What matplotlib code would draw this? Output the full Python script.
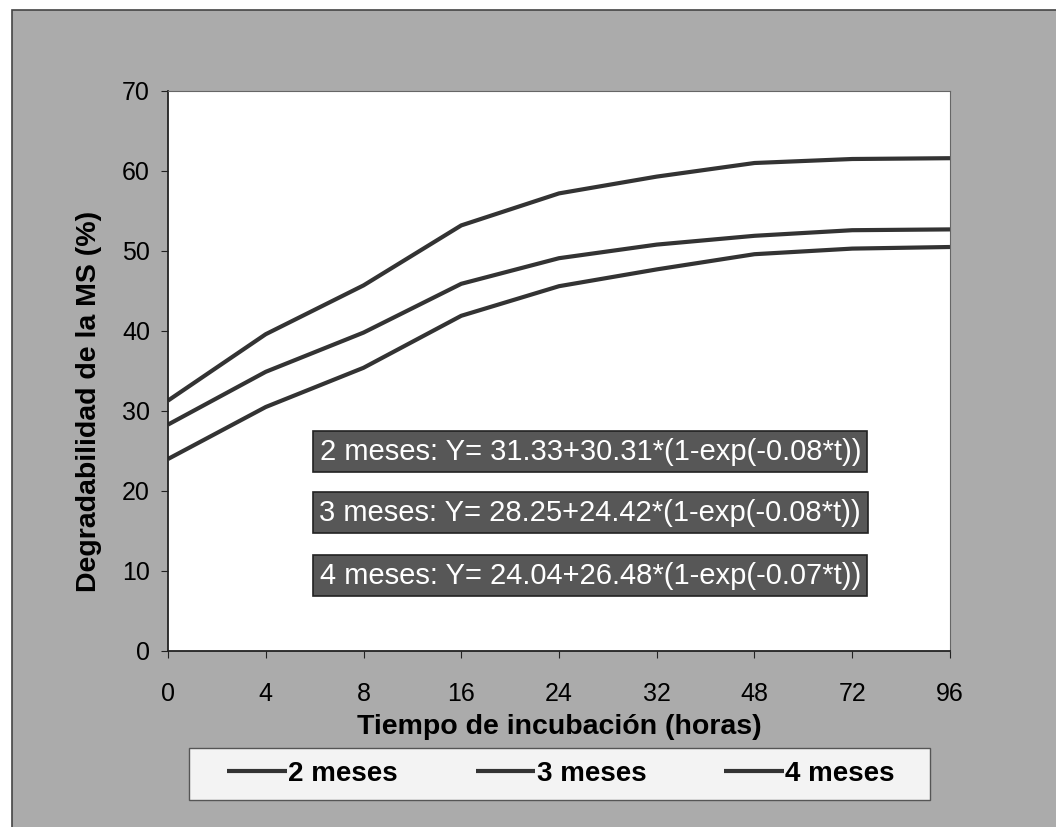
import matplotlib
matplotlib.use("Agg")
import matplotlib.pyplot as plt
from matplotlib.patches import Rectangle

# datos
horas = ["0", "4", "8", "16", "24", "32", "48", "72", "96"]
meses2 = [31.3, 39.6, 45.7, 53.2, 57.2, 59.3, 61.0, 61.5, 61.6]
meses3 = [28.3, 34.9, 39.8, 45.9, 49.1, 50.8, 51.9, 52.6, 52.7]
meses4 = [24.0, 30.5, 35.4, 41.9, 45.6, 47.7, 49.6, 50.3, 50.5]
series = ["2 meses", "3 meses", "4 meses"]
ecuaciones = ["2 meses: Y= 31.33+30.31*(1-exp(-0.08*t))",
              "3 meses: Y= 28.25+24.42*(1-exp(-0.08*t))",
              "4 meses: Y= 24.04+26.48*(1-exp(-0.07*t))"]

plt.rcParams['font.family'] = ['Liberation Sans', 'DejaVu Sans']

W, H = 1056, 827
fig = plt.figure(figsize=(W / 100, H / 100), dpi=100)
fig.patch.set_facecolor('white')

# fondo gris con marco (el escaneo deja una franja blanca arriba/izquierda)
fig.patches.append(Rectangle((12 / W, -0.01), 1.02, 1 - 10 / H + 0.01,
                             transform=fig.transFigure, fc='#ababab',
                             ec='#444444', lw=1.2, zorder=-10))
# caja blanca de la leyenda
fig.patches.append(Rectangle((189 / W, 1 - 800 / H), 741 / W, 52 / H,
                             transform=fig.transFigure, fc='#f3f3f3',
                             ec='#555555', lw=1, zorder=-5))

ax = fig.add_axes([168 / W, 1 - 651 / H, 782 / W, 560 / H])
ax.set_facecolor('white')

x = list(range(len(horas)))
for vals, lab in zip([meses2, meses3, meses4], series):
    ax.plot(x, vals, color='#333333', lw=3, label=lab, solid_capstyle='butt')

ax.set_xlim(0, len(horas) - 1)
ax.set_ylim(0, 70)
ax.set_xticks(x)
ax.set_xticklabels(horas)
ax.set_yticks(range(0, 71, 10))
ax.tick_params(axis='both', labelsize=18, color='#222222', length=5,
               direction='out')
ax.tick_params(axis='x', pad=17)
ax.tick_params(axis='y', pad=8)
for s in ['top', 'right']:
    ax.spines[s].set_color('#666666')
    ax.spines[s].set_linewidth(0.8)
for s in ['left', 'bottom']:
    ax.spines[s].set_color('#222222')
    ax.spines[s].set_linewidth(1.3)

ax.set_xlabel('Tiempo de incubación (horas)', fontsize=20.5, fontweight='bold')
ax.set_ylabel('Degradabilidad de la MS (%)', fontsize=20.5, fontweight='bold')
ax.xaxis.set_label_coords(0.501, -0.1125)
ax.yaxis.set_label_coords(-0.0844, 0.446)

ypos = [24.9, 17.3, 9.4]
for txt, yy in zip(ecuaciones, ypos):
    ax.text(4.32, yy, txt, ha='center', va='center', fontsize=21,
            color='white',
            bbox=dict(boxstyle='square,pad=0.22', fc='#575757', ec='#222222',
                      lw=1.2))

leg = fig.legend(loc='center', bbox_to_anchor=(561 / W, 1 - 774 / H), ncol=3,
                 frameon=False, handlelength=2.15, handletextpad=0.05,
                 columnspacing=2.8, prop={'weight': 'bold', 'size': 20})

fig.savefig('out.png', dpi=100, facecolor=fig.get_facecolor())
